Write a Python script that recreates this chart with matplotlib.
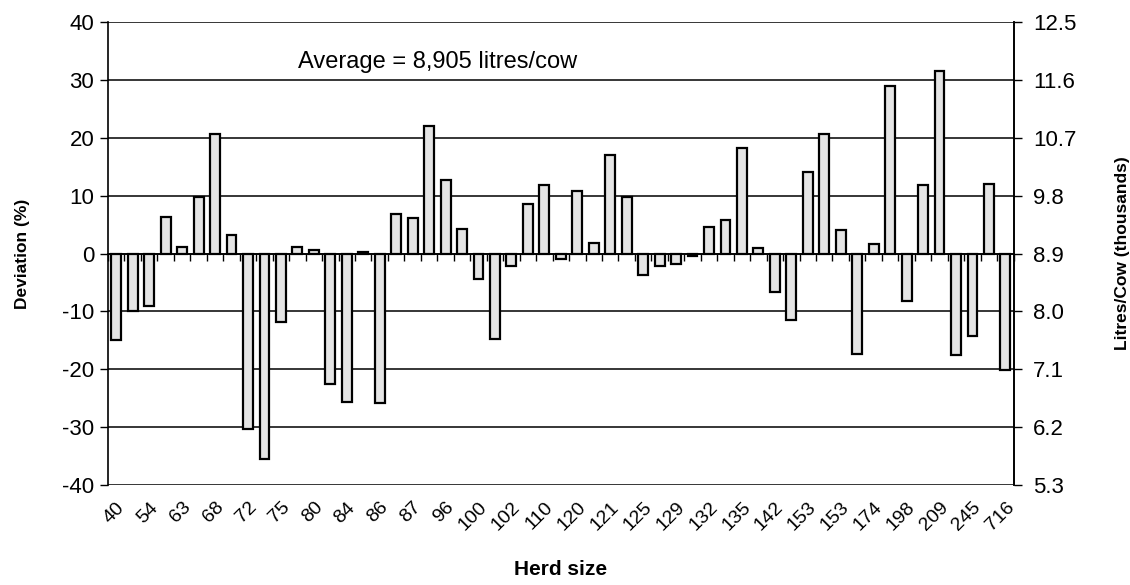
"""Herd milk yield deviation from the average, by herd size."""

import numpy as np
import matplotlib.pyplot as plt
from matplotlib.ticker import FixedLocator

plt.rcParams["font.family"] = ["Liberation Sans", "DejaVu Sans"]
plt.rcParams["axes.unicode_minus"] = False

# Deviation of each herd's yield from the group average (%), in herd-size order
deviation = [
    -15.0, -9.9, -9.0, 6.4, 1.2, 9.8, 20.7, 3.3, -30.3, -35.5,
    -11.9, 1.2, 0.6, -22.5, -25.7, 0.2, -25.9, 6.8, 6.1, 22.0,
    12.7, 4.3, -4.4, -14.8, -2.1, 8.6, 11.9, -1.0, 10.9, 1.9,
    17.1, 9.7, -3.7, -2.2, -1.8, -0.4, 4.6, 5.8, 18.2, 1.0,
    -6.6, -11.5, 14.1, 20.7, 4.1, -17.4, 1.7, 28.9, -8.2, 11.8,
    31.5, -17.5, -14.2, 12.1, -20.1,
]
# Herd sizes shown on every second bar
herd_labels = [
    "40", "54", "63", "68", "72", "75", "80", "84", "86", "87",
    "96", "100", "102", "110", "120", "121", "125", "129", "132", "135",
    "142", "153", "153", "174", "198", "209", "245", "716",
]
average_litres = 8905
dev_ticks = [-40, -30, -20, -10, 0, 10, 20, 30, 40]
litres_ticks = [5.3, 6.2, 7.1, 8.0, 8.9, 9.8, 10.7, 11.6, 12.5]

x = np.arange(len(deviation))

fig = plt.figure(figsize=(11.3, 5.85), dpi=100)
ax = fig.add_axes([0.0956, 0.171, 0.8014, 0.791])

ax.bar(x, deviation, width=0.6, facecolor="#e4e4e4", edgecolor="black",
       linewidth=1.6, zorder=3)

ax.set_xlim(-0.5, len(deviation) - 0.5)
ax.set_ylim(-40, 40)
ax.set_yticks(dev_ticks)
ax.grid(axis="y", color="black", linewidth=1.1, zorder=1)
ax.tick_params(axis="y", direction="out", length=6, width=1, labelsize=16, pad=4)

# category axis runs along zero with boundary ticks
ax.spines["bottom"].set_position(("data", 0))
ax.spines["bottom"].set_linewidth(1.2)
ax.spines["top"].set_visible(False)
ax.spines["left"].set_linewidth(1.2)
ax.spines["right"].set_linewidth(1.2)
ax.xaxis.set_major_locator(FixedLocator(np.arange(-0.5, len(deviation), 1)))
ax.xaxis.set_ticklabels([])
ax.tick_params(axis="x", direction="out", length=5, width=1)

# herd size labels under the plot
lab_ax = ax.secondary_xaxis(0.0)
lab_ax.set_xticks(np.arange(0, len(deviation), 2))
lab_ax.set_xticklabels(herd_labels, rotation=45, ha="right", va="top",
                       rotation_mode="anchor", fontsize=14)
lab_ax.tick_params(length=0, pad=10)
lab_ax.spines["bottom"].set_visible(False)
lab_ax.set_xlabel("Herd size", fontsize=15, fontweight="bold", labelpad=19)

ax.set_ylabel("Deviation (%)", fontsize=12.5, fontweight="bold", labelpad=23)

ax.text(0.21, 0.915, f"Average = {average_litres:,} litres/cow",
        transform=ax.transAxes, fontsize=17, ha="left", va="center")

ax2 = ax.twinx()
ax2.set_ylim(litres_ticks[0], litres_ticks[-1])
ax2.set_yticks(litres_ticks)
ax2.set_yticklabels([f"{v:.1f}" for v in litres_ticks])
ax2.tick_params(axis="y", direction="out", length=6, width=1, labelsize=16, pad=8)
for side in ("top", "bottom", "left"):
    ax2.spines[side].set_visible(False)
ax2.spines["right"].set_linewidth(1.2)
ax2.set_ylabel("Litres/Cow (thousands)", fontsize=12.5, fontweight="bold", labelpad=28)

fig.savefig("out.png", dpi=100)
